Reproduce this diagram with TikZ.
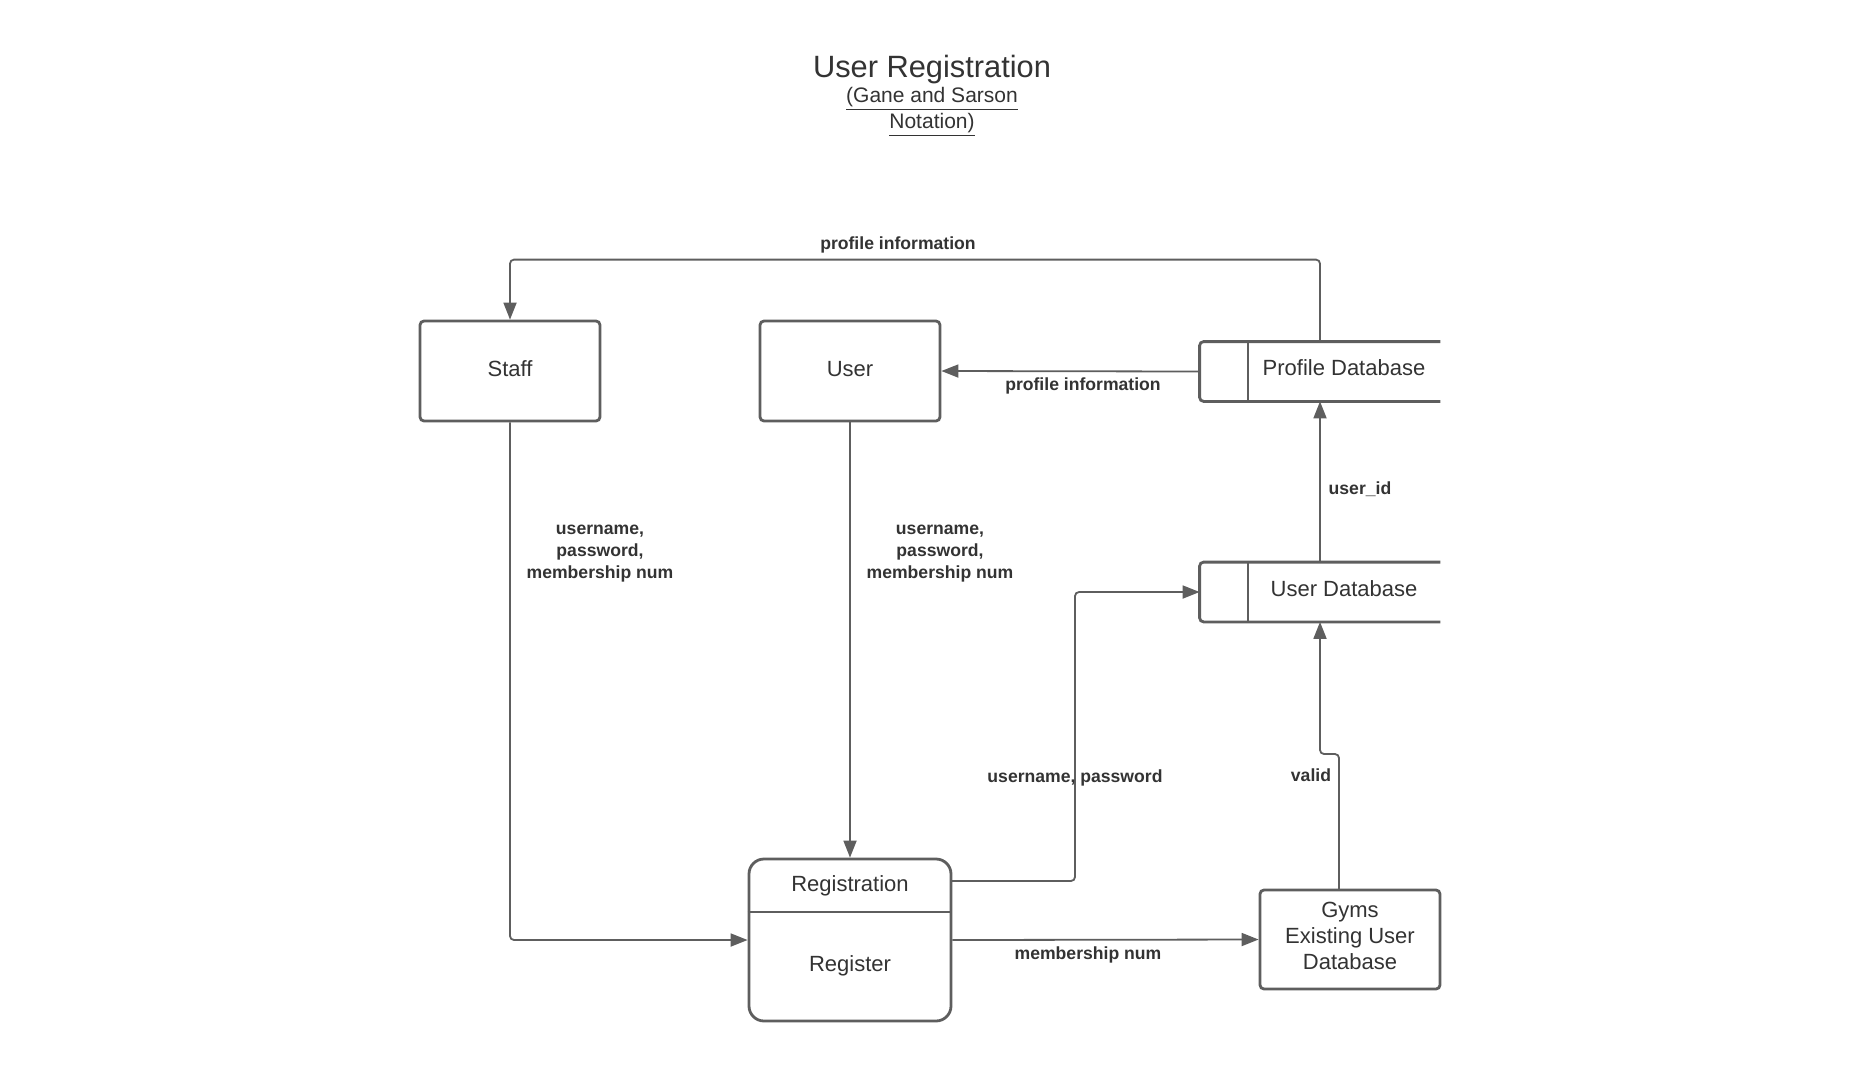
\documentclass[tikz,border=0pt]{standalone}
\usepackage{fontspec}
\setmainfont{Liberation Sans}
\usetikzlibrary{arrows.meta}

\definecolor{linegray}{HTML}{5E5E5E}
\definecolor{textgray}{HTML}{333333}

\begin{document}
\begin{tikzpicture}[x=0.5pt, y=-0.5pt,
  entity/.style={draw=linegray, line width=1.4pt, rounded corners=2pt, inner sep=0pt, minimum width=90pt, minimum height=50pt, text depth=2.4pt, align=center, text=textgray, font=\fontsize{11pt}{13pt}\selectfont},
  process/.style={draw=linegray, line width=1.4pt, rounded corners=7.5pt, inner sep=0pt, minimum width=101pt, minimum height=81pt},
  store/.style={inner sep=0pt, minimum width=120pt, minimum height=29.5pt},
  outline/.style={draw=linegray, line width=1.4pt},
  plain/.style={text=textgray, align=center, font=\fontsize{11pt}{13pt}\selectfont},
  flowlabel/.style={text=textgray, align=center, font=\fontsize{8.8pt}{10.85pt}\selectfont\bfseries},
  flow/.style={draw=linegray, line width=0.9pt, rounded corners=2pt, -{Triangle[length=8.5pt, width=6.5pt]}}]
\fill [color=white] (0, 0) rectangle (1870, 1073);

\node (title) at (932, 70) [text=textgray, font=\fontsize{15.4pt}{18pt}\selectfont] {User Registration};
\node (notation) at (932, 112) [text=textgray, align=center, font=\fontsize{10.5pt}{11.5pt}\selectfont] {\underline{(Gane and Sarson}\\\underline{Notation)}};

\node (staff) at (510, 371) [entity] {Staff};
\node (user) at (850, 371) [entity] {User};
\node (gyms) at (1350, 939.5) [entity, minimum height=49.5pt, text depth=4pt] {Gyms\\Existing User\\Database};

\node (reg) at (850, 940) [process] {};
\draw [outline] (reg.west |- 0, 912) -- (reg.east |- 0, 912);
\node (regid) at (850, 885.5) [plain] {Registration};
\node (regname) at (850, 965.5) [plain] {Register};

\node (pdb) at (1320, 371.5) [store] {};
\draw [outline, rounded corners=2pt] (pdb.north east) -- (pdb.north west) -- (pdb.south west) -- (pdb.south east);
\draw [outline] (1248, 342) -- (1248, 401);
\node (pdbtext) at (1344, 368) [plain] {Profile Database};

\node (udb) at (1320, 592) [store] {};
\draw [outline, rounded corners=2pt] (udb.north east) -- (udb.north west) -- (udb.south west) -- (udb.south east);
\draw [outline] (1248, 562) -- (1248, 622);
\node (udbtext) at (1344, 589) [plain] {User Database};

\coordinate (regout) at (951, 881);
\coordinate (gymsout) at (1339, 890);

\draw [flow] (pdb.north) -- ++(0, -82) -| (staff.north);
\draw [flow] (pdb.west) -- (user.east);
\draw [flow] (udb.north) -- (pdb.south);
\draw [flow] (staff.south) |- (reg.west);
\draw [flow] (user.south) -- (reg.north);
\draw [flow] (regout) -- (1075, 881) |- (udb.west);
\draw [flow] (reg.east) -- (gyms.west);
\draw [flow] (gymsout) -- (1339, 754) -- (1320, 754) -- (udb.south);

\node (toplabel) at (898, 244.5) [flowlabel] {profile information};
\node (pilabel) at (1083, 385.5) [flowlabel] {profile information};
\node (idlabel) at (1360, 489) [flowlabel] {user\_id};
\node (stafflabel) at (600, 553.5) [flowlabel] {username,\\password,\\membership num};
\node (userlabel) at (940, 553.5) [flowlabel] {username,\\password,\\membership num};
\node (uplabel) at (1075, 777.5) [flowlabel] {username, password};
\node (validlabel) at (1311, 775) [flowlabel] {valid};
\node (memberlabel) at (1088, 954.5) [flowlabel] {membership num};
\end{tikzpicture}
\end{document}
